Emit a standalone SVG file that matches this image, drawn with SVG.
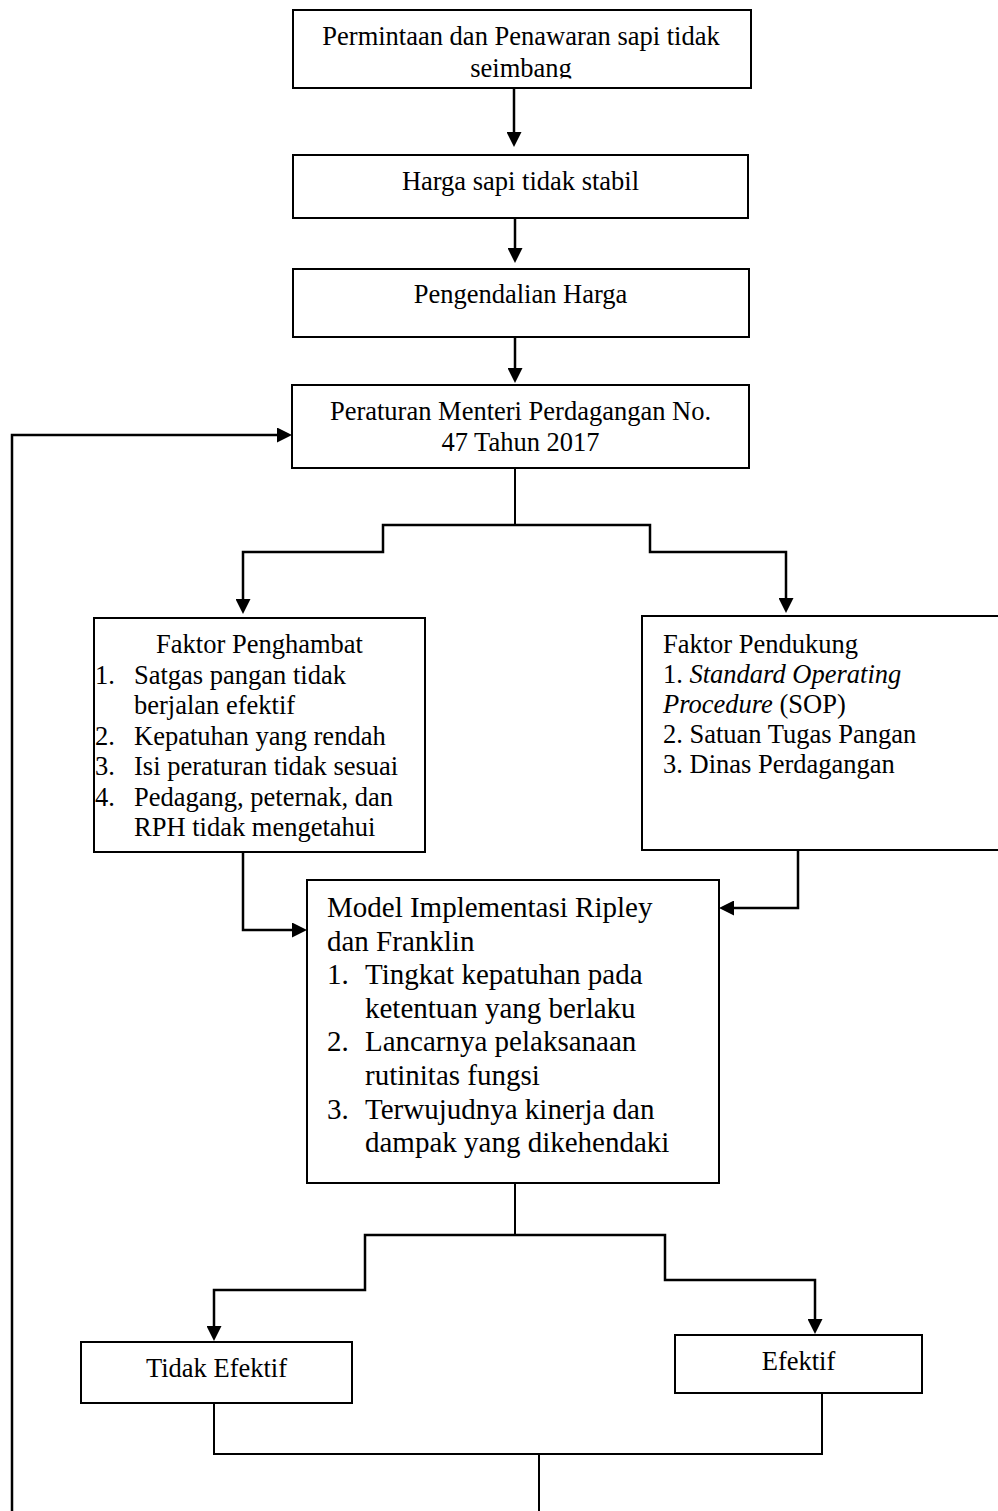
<svg xmlns="http://www.w3.org/2000/svg" width="998" height="1511" viewBox="0 0 998 1511">
<style>
.box{fill:#fff;stroke:#000;stroke-width:2}
.t{font-family:"Liberation Serif","Times New Roman",serif;font-size:26.5px;fill:#000}
.c{text-anchor:middle}
.m{font-size:29px}
.con{fill:none;stroke:#000;stroke-width:2}
.arr{fill:none;stroke:#000;stroke-width:2.5}
</style>
<defs>
<marker id="ah" viewBox="0 0 15 15" markerWidth="15" markerHeight="15" refX="5" refY="7.5" orient="auto" markerUnits="userSpaceOnUse">
<path d="M0,0 L15,7.5 L0,15 Z" fill="#000"/>
</marker>
<clipPath id="clip1"><rect x="293" y="10" width="458" height="68.5"/></clipPath>
</defs>
<rect x="0" y="0" width="998" height="1511" fill="#fff"/>
<g id="connectors">
<path class="arr" d="M514,88 V137" marker-end="url(#ah)"/>
<path class="arr" d="M515,218 V253" marker-end="url(#ah)"/>
<path class="arr" d="M515,337 V373" marker-end="url(#ah)"/>
<path class="arr" d="M12,1511 V435 H282" marker-end="url(#ah)"/>
<path class="con" d="M515,468 V525"/>
<path class="arr" d="M515,525 H383 V552 H243 V604" marker-end="url(#ah)"/>
<path class="arr" d="M515,525 H650 V552 H786 V603" marker-end="url(#ah)"/>
<path class="arr" d="M243,852 V930 H297" marker-end="url(#ah)"/>
<path class="arr" d="M798,850 V908 H729" marker-end="url(#ah)"/>
<path class="con" d="M515,1183 V1235"/>
<path class="arr" d="M515,1235 H365 V1290 H214 V1331" marker-end="url(#ah)"/>
<path class="arr" d="M515,1235 H665 V1280 H815 V1324" marker-end="url(#ah)"/>
<path class="con" d="M214,1403 V1454 H822 V1393"/>
<path class="con" d="M539,1454 V1511"/>
</g>
<g id="n1">
<rect class="box" x="293" y="10" width="458" height="78"/>
<g clip-path="url(#clip1)">
<text class="t c" x="521" y="45">Permintaan dan Penawaran sapi tidak</text>
<text class="t c" x="521" y="77">seimbang</text>
</g>
</g>
<g id="n2">
<rect class="box" x="293" y="155" width="455" height="63"/>
<text class="t c" x="520.5" y="190">Harga sapi tidak stabil</text>
</g>
<g id="n3">
<rect class="box" x="293" y="269" width="456" height="68"/>
<text class="t c" x="520.5" y="303">Pengendalian Harga</text>
</g>
<g id="n4">
<rect class="box" x="292" y="385" width="457" height="83"/>
<text class="t c" x="520.5" y="420">Peraturan Menteri Perdagangan No.</text>
<text class="t c" x="520.5" y="451">47 Tahun 2017</text>
</g>
<g id="n5">
<rect class="box" x="94" y="618" width="331" height="234"/>
<text class="t c" x="259.5" y="653">Faktor Penghambat</text>
<text class="t" x="95" y="683.5">1.</text>
<text class="t" x="134" y="683.5">Satgas pangan tidak</text>
<text class="t" x="134" y="714">berjalan efektif</text>
<text class="t" x="95" y="744.5">2.</text>
<text class="t" x="134" y="744.5">Kepatuhan yang rendah</text>
<text class="t" x="95" y="775">3.</text>
<text class="t" x="134" y="775">Isi peraturan tidak sesuai</text>
<text class="t" x="95" y="805.5">4.</text>
<text class="t" x="134" y="805.5">Pedagang, peternak, dan</text>
<text class="t" x="134" y="836">RPH tidak mengetahui</text>
</g>
<g id="n6">
<rect class="box" x="642" y="616" width="370" height="234"/>
<text class="t" x="663" y="653">Faktor Pendukung</text>
<text class="t" x="663" y="682.5">1. <tspan font-style="italic">Standard Operating</tspan></text>
<text class="t" x="663" y="712.5"><tspan font-style="italic">Procedure</tspan> (SOP)</text>
<text class="t" x="663" y="742.5">2. Satuan Tugas Pangan</text>
<text class="t" x="663" y="772.5">3. Dinas Perdagangan</text>
</g>
<g id="n7">
<rect class="box" x="307" y="880" width="412" height="303"/>
<text class="t m" x="327" y="917">Model Implementasi Ripley</text>
<text class="t m" x="327" y="950.6">dan Franklin</text>
<text class="t m" x="327" y="984.2">1.</text>
<text class="t m" x="365" y="984.2">Tingkat kepatuhan pada</text>
<text class="t m" x="365" y="1017.8">ketentuan yang berlaku</text>
<text class="t m" x="327" y="1051.4">2.</text>
<text class="t m" x="365" y="1051.4">Lancarnya pelaksanaan</text>
<text class="t m" x="365" y="1085">rutinitas fungsi</text>
<text class="t m" x="327" y="1118.6">3.</text>
<text class="t m" x="365" y="1118.6">Terwujudnya kinerja dan</text>
<text class="t m" x="365" y="1152.2">dampak yang dikehendaki</text>
</g>
<g id="n8">
<rect class="box" x="81" y="1342" width="271" height="61"/>
<text class="t c" x="216.5" y="1377">Tidak Efektif</text>
</g>
<g id="n9">
<rect class="box" x="675" y="1335" width="247" height="58"/>
<text class="t c" x="798.5" y="1370">Efektif</text>
</g>
</svg>
